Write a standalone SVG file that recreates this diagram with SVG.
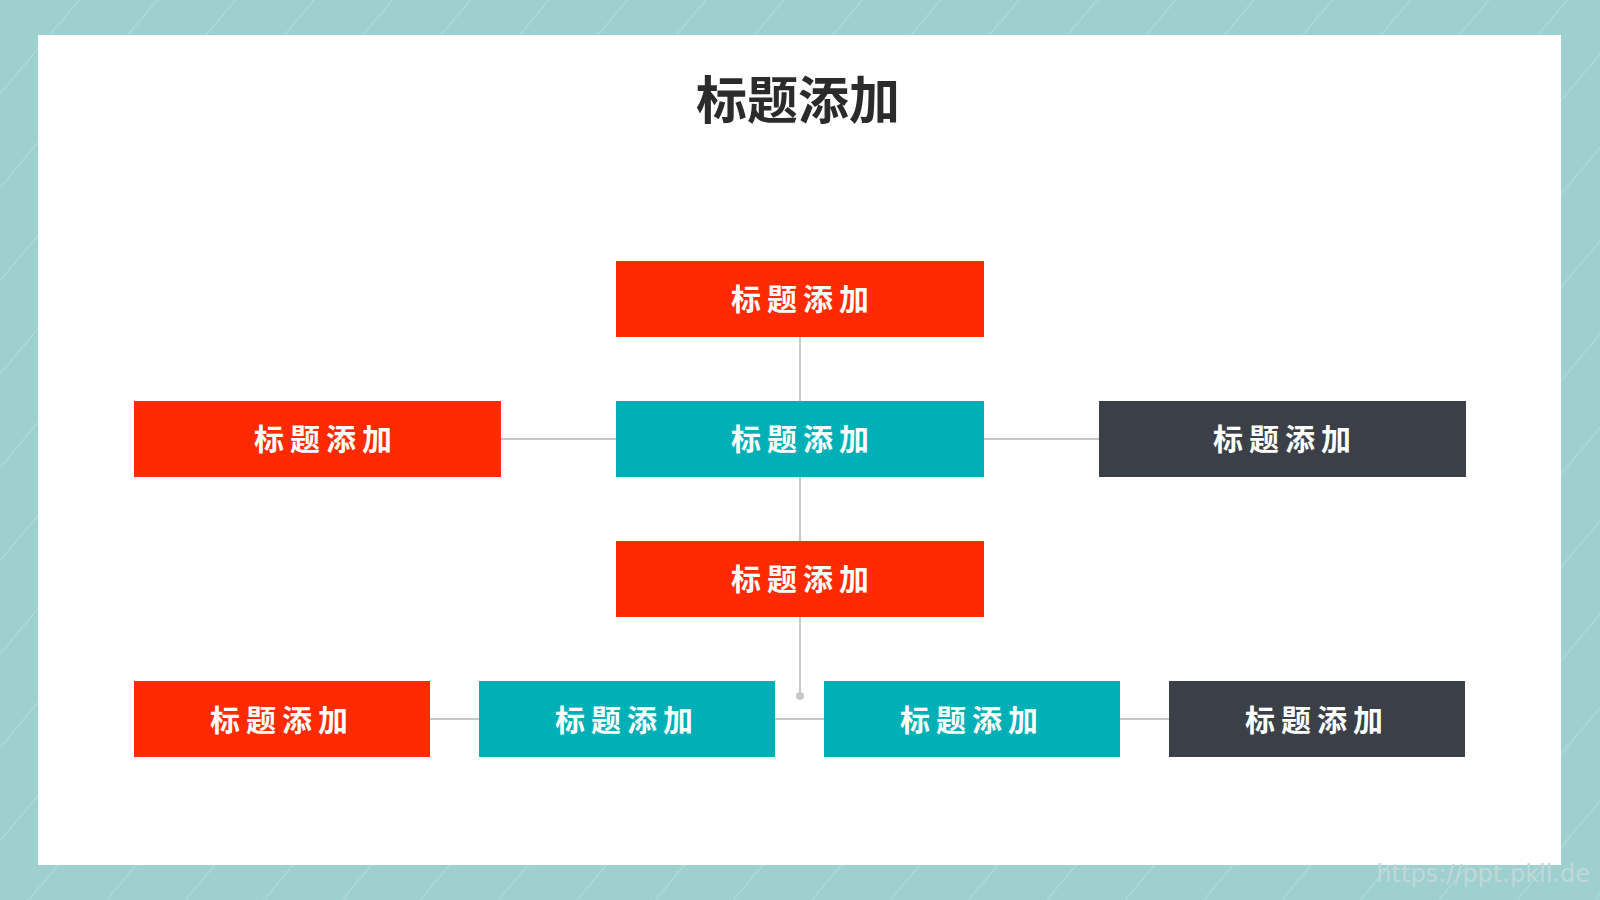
<svg xmlns="http://www.w3.org/2000/svg" width="1600" height="900" viewBox="0 0 1600 900">
<defs>
<pattern id="st" width="60" height="60" patternUnits="userSpaceOnUse" patternTransform="rotate(40)">
<rect width="60" height="60" fill="#9dd0cf"/>
<line x1="0" y1="0" x2="0" y2="60" stroke="#b5dcdb" stroke-width="2"/>
</pattern>
</defs>
<style>
.t{font-family:"Noto Sans CJK SC",sans-serif;font-weight:bold;fill:#fff;font-size:30px;letter-spacing:6px;text-anchor:middle;dominant-baseline:central}
.r{fill:#ff2a00}.c{fill:#00b0b6}.d{fill:#3b4048}
.ln{stroke:#c8c8c8;stroke-width:2;fill:none}
</style>
<rect width="1600" height="900" fill="url(#st)"/>
<rect x="38" y="35" width="1523" height="830" fill="#fff"/>
<text x="798" y="97" font-family="Noto Sans CJK SC,sans-serif" font-weight="bold" font-size="51" fill="#2b2b2b" text-anchor="middle" dominant-baseline="central">标题添加</text>
<g id="connectors">
<line class="ln" x1="800" y1="337" x2="800" y2="541"/>
<line class="ln" x1="501" y1="439" x2="1099" y2="439"/>
<line class="ln" x1="800" y1="616" x2="800" y2="696"/>
<line class="ln" x1="430" y1="719" x2="1169" y2="719"/>
<circle cx="800" cy="696" r="4" fill="#c8c8c8"/>
</g>
<g id="n1"><rect class="r" x="616" y="261" width="368" height="76"/><text class="t" x="803" y="297">标题添加</text></g>
<g id="n2"><rect class="r" x="134" y="401" width="367" height="76"/><text class="t" x="326" y="437">标题添加</text></g>
<g id="n3"><rect class="c" x="616" y="401" width="368" height="76"/><text class="t" x="803" y="437">标题添加</text></g>
<g id="n4"><rect class="d" x="1099" y="401" width="367" height="76"/><text class="t" x="1285" y="437">标题添加</text></g>
<g id="n5"><rect class="r" x="616" y="541" width="368" height="76"/><text class="t" x="803" y="577">标题添加</text></g>
<g id="n6"><rect class="r" x="134" y="681" width="296" height="76"/><text class="t" x="282" y="718">标题添加</text></g>
<g id="n7"><rect class="c" x="479" y="681" width="296" height="76"/><text class="t" x="627" y="718">标题添加</text></g>
<g id="n8"><rect class="c" x="824" y="681" width="296" height="76"/><text class="t" x="972" y="718">标题添加</text></g>
<g id="n9"><rect class="d" x="1169" y="681" width="296" height="76"/><text class="t" x="1317" y="718">标题添加</text></g>
<text x="1590" y="882" font-family="DejaVu Sans,sans-serif" font-size="24" fill="#c0d8d8" text-anchor="end">https://ppt.pkll.de</text>
</svg>
